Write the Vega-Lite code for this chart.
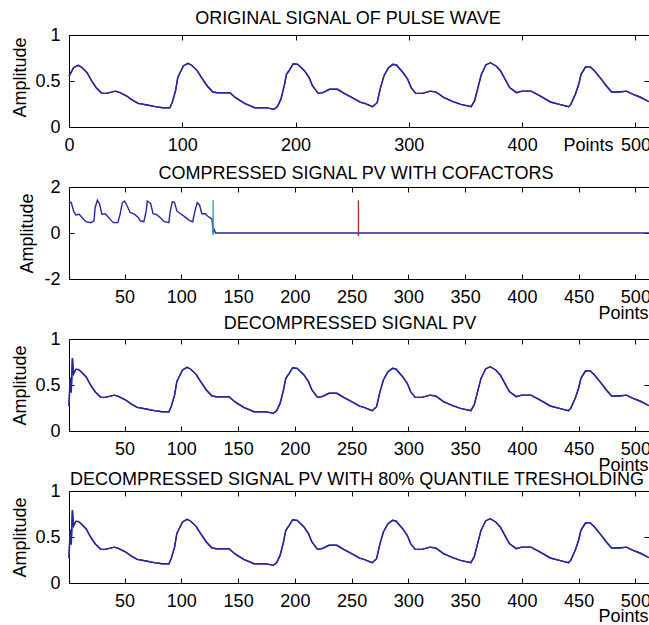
{
  "$schema": "https://vega.github.io/schema/vega-lite/v6.json",
  "padding": {"left": 10, "top": 9, "right": 1, "bottom": 0},
  "spacing": 60,
  "bounds": "flush",
  "datasets": {
    "orig": [
      {"v": 0, "a": 0.55}, {"v": 4, "a": 0.645}, {"v": 8, "a": 0.67}, {"v": 11, "a": 0.652}, {"v": 16, "a": 0.59},
      {"v": 20, "a": 0.5}, {"v": 24, "a": 0.427}, {"v": 29, "a": 0.366}, {"v": 33, "a": 0.366}, {"v": 41, "a": 0.39},
      {"v": 45, "a": 0.373}, {"v": 51, "a": 0.337}, {"v": 55, "a": 0.3}, {"v": 61, "a": 0.257}, {"v": 69, "a": 0.239},
      {"v": 76, "a": 0.221}, {"v": 83, "a": 0.21}, {"v": 89, "a": 0.21}, {"v": 91, "a": 0.264}, {"v": 94, "a": 0.39},
      {"v": 96, "a": 0.536}, {"v": 98, "a": 0.59}, {"v": 101, "a": 0.663}, {"v": 105, "a": 0.692}, {"v": 108, "a": 0.674},
      {"v": 113, "a": 0.616}, {"v": 117, "a": 0.536}, {"v": 122, "a": 0.446}, {"v": 127, "a": 0.38}, {"v": 131, "a": 0.373},
      {"v": 142, "a": 0.373}, {"v": 147, "a": 0.319}, {"v": 155, "a": 0.257}, {"v": 164, "a": 0.21}, {"v": 174, "a": 0.21},
      {"v": 181, "a": 0.192}, {"v": 184, "a": 0.221}, {"v": 187, "a": 0.3}, {"v": 190, "a": 0.446}, {"v": 192, "a": 0.572},
      {"v": 195, "a": 0.627}, {"v": 198, "a": 0.688}, {"v": 202, "a": 0.681}, {"v": 208, "a": 0.609}, {"v": 212, "a": 0.536},
      {"v": 215, "a": 0.446}, {"v": 220, "a": 0.366}, {"v": 224, "a": 0.373}, {"v": 230, "a": 0.41}, {"v": 237, "a": 0.41},
      {"v": 243, "a": 0.366}, {"v": 250, "a": 0.319}, {"v": 257, "a": 0.27}, {"v": 261, "a": 0.257}, {"v": 268, "a": 0.221},
      {"v": 272, "a": 0.264}, {"v": 275, "a": 0.428}, {"v": 278, "a": 0.554}, {"v": 282, "a": 0.645}, {"v": 286, "a": 0.681},
      {"v": 289, "a": 0.674}, {"v": 295, "a": 0.59}, {"v": 299, "a": 0.518}, {"v": 302, "a": 0.428}, {"v": 306, "a": 0.366},
      {"v": 312, "a": 0.366}, {"v": 319, "a": 0.39}, {"v": 324, "a": 0.38}, {"v": 331, "a": 0.319}, {"v": 339, "a": 0.275},
      {"v": 346, "a": 0.246}, {"v": 355, "a": 0.221}, {"v": 358, "a": 0.283}, {"v": 361, "a": 0.428}, {"v": 364, "a": 0.572},
      {"v": 368, "a": 0.674}, {"v": 372, "a": 0.699}, {"v": 377, "a": 0.663}, {"v": 381, "a": 0.609}, {"v": 385, "a": 0.518},
      {"v": 389, "a": 0.428}, {"v": 395, "a": 0.373}, {"v": 400, "a": 0.39}, {"v": 408, "a": 0.39}, {"v": 417, "a": 0.33},
      {"v": 425, "a": 0.272}, {"v": 433, "a": 0.246}, {"v": 441, "a": 0.221}, {"v": 443, "a": 0.246}, {"v": 447, "a": 0.355},
      {"v": 450, "a": 0.464}, {"v": 452, "a": 0.572}, {"v": 456, "a": 0.652}, {"v": 460, "a": 0.656}, {"v": 464, "a": 0.609},
      {"v": 470, "a": 0.518}, {"v": 475, "a": 0.438}, {"v": 479, "a": 0.38}, {"v": 486, "a": 0.38}, {"v": 492, "a": 0.39},
      {"v": 498, "a": 0.355}, {"v": 504, "a": 0.326}, {"v": 512, "a": 0.275}
    ],
    "comp": [
      {"v": 1, "a": 1.36}, {"v": 3, "a": 1.32}, {"v": 5, "a": 0.96}, {"v": 7, "a": 0.78}, {"v": 10, "a": 0.81},
      {"v": 13, "a": 0.64}, {"v": 16, "a": 0.49}, {"v": 20, "a": 0.45}, {"v": 23, "a": 0.52}, {"v": 24, "a": 1.1},
      {"v": 26, "a": 1.42}, {"v": 28, "a": 1.25}, {"v": 30, "a": 0.81}, {"v": 33, "a": 0.84}, {"v": 36, "a": 0.67},
      {"v": 40, "a": 0.45}, {"v": 44, "a": 0.45}, {"v": 46, "a": 0.81}, {"v": 48, "a": 1.32}, {"v": 50, "a": 1.39},
      {"v": 53, "a": 1.1}, {"v": 55, "a": 0.88}, {"v": 58, "a": 0.84}, {"v": 62, "a": 0.67}, {"v": 64, "a": 0.52},
      {"v": 67, "a": 0.49}, {"v": 69, "a": 0.96}, {"v": 70, "a": 1.39}, {"v": 73, "a": 1.28}, {"v": 75, "a": 0.84},
      {"v": 78, "a": 0.81}, {"v": 82, "a": 0.64}, {"v": 85, "a": 0.49}, {"v": 89, "a": 0.45}, {"v": 90, "a": 0.88},
      {"v": 92, "a": 1.36}, {"v": 94, "a": 1.32}, {"v": 96, "a": 0.96}, {"v": 98, "a": 0.88}, {"v": 101, "a": 0.78},
      {"v": 104, "a": 0.67}, {"v": 107, "a": 0.55}, {"v": 110, "a": 0.49}, {"v": 112, "a": 0.96}, {"v": 114, "a": 1.32},
      {"v": 116, "a": 1.22}, {"v": 118, "a": 0.84}, {"v": 121, "a": 0.84}, {"v": 123, "a": 0.74}, {"v": 126, "a": 0.64},
      {"v": 127, "a": 0.62}, {"v": 128, "a": 0.05}, {"v": 129, "a": 0.15}, {"v": 130, "a": 0}, {"v": 512, "a": 0}
    ],
    "cofactors": [
      {"v": 128, "lo": -0.09, "hi": 1.42, "kind": "detail 1"},
      {"v": 256, "lo": -0.13, "hi": 1.42, "kind": "detail 2"}
    ],
    "dec": [
      {"v": 1, "a": 0.27}, {"v": 2, "a": 0.58}, {"v": 3, "a": 0.42}, {"v": 4, "a": 0.79}, {"v": 5, "a": 0.62},
      {"v": 7, "a": 0.67}, {"v": 9, "a": 0.67}, {"v": 11, "a": 0.652}, {"v": 16, "a": 0.59},
      {"v": 20, "a": 0.5}, {"v": 24, "a": 0.427}, {"v": 29, "a": 0.366}, {"v": 33, "a": 0.366}, {"v": 41, "a": 0.39},
      {"v": 45, "a": 0.373}, {"v": 51, "a": 0.337}, {"v": 55, "a": 0.3}, {"v": 61, "a": 0.257}, {"v": 69, "a": 0.239},
      {"v": 76, "a": 0.221}, {"v": 83, "a": 0.21}, {"v": 89, "a": 0.21}, {"v": 91, "a": 0.264}, {"v": 94, "a": 0.39},
      {"v": 96, "a": 0.536}, {"v": 98, "a": 0.59}, {"v": 101, "a": 0.663}, {"v": 105, "a": 0.692}, {"v": 108, "a": 0.674},
      {"v": 113, "a": 0.616}, {"v": 117, "a": 0.536}, {"v": 122, "a": 0.446}, {"v": 127, "a": 0.38}, {"v": 131, "a": 0.373},
      {"v": 142, "a": 0.373}, {"v": 147, "a": 0.319}, {"v": 155, "a": 0.257}, {"v": 164, "a": 0.21}, {"v": 174, "a": 0.21},
      {"v": 181, "a": 0.192}, {"v": 184, "a": 0.221}, {"v": 187, "a": 0.3}, {"v": 190, "a": 0.446}, {"v": 192, "a": 0.572},
      {"v": 195, "a": 0.627}, {"v": 198, "a": 0.688}, {"v": 202, "a": 0.681}, {"v": 208, "a": 0.609}, {"v": 212, "a": 0.536},
      {"v": 215, "a": 0.446}, {"v": 220, "a": 0.366}, {"v": 224, "a": 0.373}, {"v": 230, "a": 0.41}, {"v": 237, "a": 0.41},
      {"v": 243, "a": 0.366}, {"v": 250, "a": 0.319}, {"v": 257, "a": 0.27}, {"v": 261, "a": 0.257}, {"v": 268, "a": 0.221},
      {"v": 272, "a": 0.264}, {"v": 275, "a": 0.428}, {"v": 278, "a": 0.554}, {"v": 282, "a": 0.645}, {"v": 286, "a": 0.681},
      {"v": 289, "a": 0.674}, {"v": 295, "a": 0.59}, {"v": 299, "a": 0.518}, {"v": 302, "a": 0.428}, {"v": 306, "a": 0.366},
      {"v": 312, "a": 0.366}, {"v": 319, "a": 0.39}, {"v": 324, "a": 0.38}, {"v": 331, "a": 0.319}, {"v": 339, "a": 0.275},
      {"v": 346, "a": 0.246}, {"v": 355, "a": 0.221}, {"v": 358, "a": 0.283}, {"v": 361, "a": 0.428}, {"v": 364, "a": 0.572},
      {"v": 368, "a": 0.674}, {"v": 372, "a": 0.699}, {"v": 377, "a": 0.663}, {"v": 381, "a": 0.609}, {"v": 385, "a": 0.518},
      {"v": 389, "a": 0.428}, {"v": 395, "a": 0.373}, {"v": 400, "a": 0.39}, {"v": 408, "a": 0.39}, {"v": 417, "a": 0.33},
      {"v": 425, "a": 0.272}, {"v": 433, "a": 0.246}, {"v": 441, "a": 0.221}, {"v": 443, "a": 0.246}, {"v": 447, "a": 0.355},
      {"v": 450, "a": 0.464}, {"v": 452, "a": 0.572}, {"v": 456, "a": 0.652}, {"v": 460, "a": 0.656}, {"v": 464, "a": 0.609},
      {"v": 470, "a": 0.518}, {"v": 475, "a": 0.438}, {"v": 479, "a": 0.38}, {"v": 486, "a": 0.38}, {"v": 492, "a": 0.39},
      {"v": 498, "a": 0.355}, {"v": 504, "a": 0.326}, {"v": 512, "a": 0.275}
    ]
  },
  "vconcat": [
    {
      "width": 580,
      "height": 92,
      "title": {"text": "ORIGINAL SIGNAL OF PULSE WAVE", "offset": 0, "dy": 2, "dx": -11},
      "data": {"name": "orig"},
      "layer": [
        {
          "mark": {"type": "line", "color": "#2525a5", "strokeWidth": 1.4},
          "encoding": {
            "x": {"field": "v", "type": "quantitative", "scale": {"domain": [0, 512], "nice": false, "zero": false},
              "axis": {"orient": "bottom", "values": [0, 100, 200, 300, 400, 500], "title": "Points",
                "titleX": 544, "titleY": 28, "titleAlign": "right", "titleBaseline": "alphabetic"}},
            "y": {"field": "a", "type": "quantitative", "scale": {"domain": [0, 1], "nice": false, "zero": false},
              "axis": {"orient": "left", "values": [0, 0.5, 1], "title": "Amplitude",
                "titleX": -45, "titleY": 42, "titleAngle": -90, "titleAlign": "center", "titleBaseline": "bottom"}}
          }
        },
        {
          "mark": {"type": "line", "color": "#2525a5", "strokeWidth": 1.4},
          "encoding": {
            "x": {"field": "v", "type": "quantitative", "scale": {"domain": [0, 512], "nice": false, "zero": false},
              "axis": {"orient": "top", "values": [0, 100, 200, 300, 400, 500], "labels": false, "title": null}},
            "y": {"field": "a", "type": "quantitative", "scale": {"domain": [0, 1], "nice": false, "zero": false},
              "axis": {"orient": "right", "values": [0, 0.5, 1], "labels": false, "title": null}}
          }
        }
      ],
      "resolve": {"axis": {"x": "independent", "y": "independent"}}
    },
    {
      "width": 580,
      "height": 92,
      "title": {"text": "COMPRESSED SIGNAL PV WITH COFACTORS", "offset": 0, "dy": 5, "dx": -3},
      "layer": [
        {
          "data": {"name": "comp"},
          "mark": {"type": "line", "color": "#2525a5", "strokeWidth": 1.4},
          "encoding": {
            "x": {"field": "v", "type": "quantitative", "scale": {"domain": [1, 512], "nice": false, "zero": false},
              "axis": {"orient": "bottom", "values": [50, 100, 150, 200, 250, 300, 350, 400, 450, 500], "title": "Points",
                "titleX": 579, "titleY": 44, "titleAlign": "right", "titleBaseline": "alphabetic"}},
            "y": {"field": "a", "type": "quantitative", "scale": {"domain": [-2, 2], "nice": false, "zero": false},
              "axis": {"orient": "left", "values": [-2, 0, 2], "title": "Amplitude",
                "titleX": -38, "titleY": 46, "titleAngle": -90, "titleAlign": "center", "titleBaseline": "bottom"}}
          }
        },
        {
          "data": {"name": "cofactors"},
          "mark": {"type": "rule", "strokeWidth": 1.4},
          "encoding": {
            "x": {"field": "v", "type": "quantitative", "scale": {"domain": [1, 512], "nice": false, "zero": false},
              "axis": {"orient": "top", "values": [50, 100, 150, 200, 250, 300, 350, 400, 450, 500], "labels": false, "title": null}},
            "y": {"field": "lo", "type": "quantitative", "scale": {"domain": [-2, 2], "nice": false, "zero": false},
              "axis": {"orient": "right", "values": [-2, 0, 2], "labels": false, "title": null}},
            "y2": {"field": "hi"},
            "color": {"field": "kind", "type": "nominal", "legend": null,
              "scale": {"domain": ["detail 1", "detail 2"], "range": ["#2ea8a2", "#a83232"]}}
          }
        }
      ],
      "resolve": {"axis": {"x": "independent", "y": "independent"}}
    },
    {
      "width": 580,
      "height": 92,
      "title": {"text": "DECOMPRESSED SIGNAL PV", "offset": 0, "dy": 3, "dx": -9},
      "data": {"name": "dec"},
      "layer": [
        {
          "mark": {"type": "line", "color": "#2525a5", "strokeWidth": 1.4},
          "encoding": {
            "x": {"field": "v", "type": "quantitative", "scale": {"domain": [1, 512], "nice": false, "zero": false},
              "axis": {"orient": "bottom", "values": [50, 100, 150, 200, 250, 300, 350, 400, 450, 500], "title": "Points",
                "titleX": 579, "titleY": 44, "titleAlign": "right", "titleBaseline": "alphabetic"}},
            "y": {"field": "a", "type": "quantitative", "scale": {"domain": [0, 1], "nice": false, "zero": false},
              "axis": {"orient": "left", "values": [0, 0.5, 1], "title": "Amplitude",
                "titleX": -45, "titleY": 46, "titleAngle": -90, "titleAlign": "center", "titleBaseline": "bottom"}}
          }
        },
        {
          "mark": {"type": "line", "color": "#2525a5", "strokeWidth": 1.4},
          "encoding": {
            "x": {"field": "v", "type": "quantitative", "scale": {"domain": [1, 512], "nice": false, "zero": false},
              "axis": {"orient": "top", "values": [50, 100, 150, 200, 250, 300, 350, 400, 450, 500], "labels": false, "title": null}},
            "y": {"field": "a", "type": "quantitative", "scale": {"domain": [0, 1], "nice": false, "zero": false},
              "axis": {"orient": "right", "values": [0, 0.5, 1], "labels": false, "title": null}}
          }
        }
      ],
      "resolve": {"axis": {"x": "independent", "y": "independent"}}
    },
    {
      "width": 580,
      "height": 92,
      "title": {"text": "DECOMPRESSED SIGNAL PV WITH 80% QUANTILE TRESHOLDING", "offset": 0, "dy": 7, "dx": -2},
      "data": {"name": "dec"},
      "layer": [
        {
          "mark": {"type": "line", "color": "#2525a5", "strokeWidth": 1.4},
          "encoding": {
            "x": {"field": "v", "type": "quantitative", "scale": {"domain": [1, 512], "nice": false, "zero": false},
              "axis": {"orient": "bottom", "values": [50, 100, 150, 200, 250, 300, 350, 400, 450, 500], "title": "Points",
                "titleX": 579, "titleY": 43, "titleAlign": "right", "titleBaseline": "alphabetic"}},
            "y": {"field": "a", "type": "quantitative", "scale": {"domain": [0, 1], "nice": false, "zero": false},
              "axis": {"orient": "left", "values": [0, 0.5, 1], "title": "Amplitude",
                "titleX": -45, "titleY": 46, "titleAngle": -90, "titleAlign": "center", "titleBaseline": "bottom"}}
          }
        },
        {
          "mark": {"type": "line", "color": "#2525a5", "strokeWidth": 1.4},
          "encoding": {
            "x": {"field": "v", "type": "quantitative", "scale": {"domain": [1, 512], "nice": false, "zero": false},
              "axis": {"orient": "top", "values": [50, 100, 150, 200, 250, 300, 350, 400, 450, 500], "labels": false, "title": null}},
            "y": {"field": "a", "type": "quantitative", "scale": {"domain": [0, 1], "nice": false, "zero": false},
              "axis": {"orient": "right", "values": [0, 0.5, 1], "labels": false, "title": null}}
          }
        }
      ],
      "resolve": {"axis": {"x": "independent", "y": "independent"}}
    }
  ],
  "config": {
    "font": "Liberation Sans",
    "view": {"stroke": "black", "strokeWidth": 1},
    "axis": {
      "domain": false, "grid": false, "ticks": true, "tickColor": "black", "tickSize": 5, "offset": -5,
      "labelFontSize": 18, "labelColor": "black", "labelFont": "Liberation Sans", "labelPadding": 9,
      "labelFlush": false, "labelOverlap": false, "labelExpr": "'' + datum.value",
      "titleFontSize": 18, "titleFontWeight": "normal", "titleColor": "black", "titleFont": "Liberation Sans"
    },
    "title": {"fontSize": 18, "fontWeight": "normal", "color": "black", "font": "Liberation Sans", "frame": "group", "baseline": "alphabetic"}
  }
}
